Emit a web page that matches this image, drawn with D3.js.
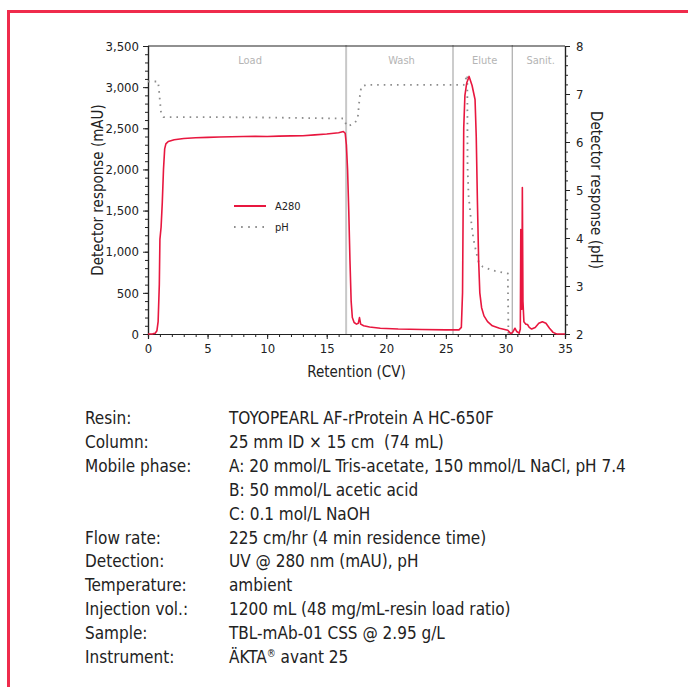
<!DOCTYPE html>
<html>
<head>
<meta charset="utf-8">
<script src="https://cdn.jsdelivr.net/npm/d3@7"></script>
<style>
  body { margin: 0; background: #fff; }
  svg text { font-family: "Liberation Sans Narrow", "DejaVu Sans Condensed", "Roboto", sans-serif; font-stretch: condensed; }
</style>
</head>
<body>
<div id="chart"></div>
<script>
"use strict";

//data ************************************************************
var a280CV = [0, 0.4, 0.6, 0.75, 0.85, 0.95, 1.0, 1.1, 1.2, 1.3, 1.4, 1.5, 1.7, 2.2, 3, 4, 5, 6, 7, 8, 9, 10, 11, 12, 13, 14, 15, 16, 16.4,
  16.55, 16.65, 16.75, 16.85, 16.95, 17.05, 17.15, 17.3, 17.5, 17.65, 17.75, 17.85, 18.1, 18.6, 19.5, 21, 23, 25, 26.1,
  26.3, 26.4, 26.45, 26.5, 26.6, 26.75, 26.95, 27.2, 27.45, 27.55, 27.65, 27.75, 27.85, 28.0, 28.2, 28.5, 28.9, 29.5, 30.2,
  30.45, 30.6, 30.8, 30.95, 31.15, 31.25, 31.29, 31.33, 31.38, 31.42, 31.47, 31.55, 31.7, 31.85, 32.0, 32.2, 32.5, 32.8,
  33.1, 33.4, 33.7, 34.0, 34.3, 35];
var a280Val = [0, 2, 10, 40, 150, 600, 1150, 1300, 1600, 2000, 2250, 2310, 2340, 2360, 2375, 2385, 2390, 2395, 2398, 2400, 2402, 2400, 2405, 2408, 2410, 2420, 2430, 2445, 2460,
  2440, 2300, 2000, 1500, 900, 400, 200, 140, 120, 130, 200, 120, 100, 85, 70, 60, 55, 50, 50,
  80, 500, 1500, 2500, 2900, 3050, 3130, 3020, 2850, 2400, 1600, 900, 500, 320, 220, 150, 100, 70, 45,
  5, 20, 70, 30, 10, 60, 1270, 300, 300, 1780, 400, 150, 120, 115, 80, 60, 80, 130,
  148, 130, 70, 20, 0, 0];

var phCV = [0, 0.85, 0.95, 1.1, 1.3, 5, 10, 16.4, 16.7, 17.3, 17.6, 17.75, 17.9, 18.3, 26.5, 26.8, 26.82, 26.9, 27.1, 27.3, 27.55, 27.75, 28.1, 29, 30.2, 30.25];
var phVal = [7.26, 7.26, 7.0, 6.6, 6.52, 6.52, 6.51, 6.49, 6.33, 6.38, 6.48, 6.9, 7.15, 7.19, 7.19, 7.4, 5.5, 4.9, 4.4, 4.0, 3.7, 3.5, 3.4, 3.32, 3.26, 2.0];

var phaseNames = ["Load", "Wash", "Elute", "Sanit."];
var phaseBounds = [0, 16.63, 25.6, 30.57, 35];

var xTicks = [0, 5, 10, 15, 20, 25, 30, 35];
var leftTicks = [0, 500, 1000, 1500, 2000, 2500, 3000, 3500];
var rightTicks = [2, 3, 4, 5, 6, 7, 8];

var infoLabels = ["Resin:", "Column:", "Mobile phase:", "", "", "Flow rate:", "Detection:", "Temperature:", "Injection vol.:", "Sample:", "Instrument:"];
var infoValues = [
  "TOYOPEARL AF-rProtein A HC-650F",
  "25 mm ID \u00d7 15 cm  (74 mL)",
  "A: 20 mmol/L Tris-acetate, 150 mmol/L NaCl, pH 7.4",
  "B: 50 mmol/L acetic acid",
  "C: 0.1 mol/L NaOH",
  "225 cm/hr (4 min residence time)",
  "UV @ 280 nm (mAU), pH",
  "ambient",
  "1200 mL (48 mg/mL-resin load ratio)",
  "TBL-mAb-01 CSS @ 2.95 g/L",
  "\u00c4KTA\u00ae avant 25"
];

//variables ************************************************************
var width = 688, height = 687;
var red = "#e8173f";
var pLeft = 148, pRight = 565, pTop = 46, pBottom = 334;

var svg = d3.select("#chart").append("svg")
  .attr("width", width).attr("height", height);

// frame
svg.append("rect")
  .attr("x", 8.5).attr("y", 11.5)
  .attr("width", 720).attr("height", 720)
  .attr("fill", "none").attr("stroke", "#ef2b4c").attr("stroke-width", 3);

var x = d3.scaleLinear().domain([0, 35]).range([pLeft, pRight]);
var yL = d3.scaleLinear().domain([0, 3500]).range([pBottom, pTop]);
var yR = d3.scaleLinear().domain([2, 8]).range([pBottom, pTop]);

//phase lines + labels ************************************************************
svg.selectAll(".phase")
  .data(phaseBounds.slice(1, 4))
  .enter().append("line")
  .attr("x1", function(d) { return x(d); }).attr("x2", function(d) { return x(d); })
  .attr("y1", pTop - 1).attr("y2", pBottom)
  .attr("stroke", function(d, i) { return i == 0 ? "#c8c8c8" : "#999"; })
  .attr("stroke-width", function(d, i) { return i == 0 ? 2 : 1; });

svg.selectAll(".phaseLabel")
  .data(phaseNames)
  .enter().append("text")
  .attr("x", function(d, i) { return x((phaseBounds[i] + phaseBounds[i + 1]) / 2) + (i == 0 ? 3 : 2); })
  .attr("y", 64)
  .attr("text-anchor", "middle")
  .attr("font-size", 11)
  .attr("fill", "#b4b4b4")
  .text(function(d) { return d; });

//axes ************************************************************
function styleAxis(g) {
  g.select(".domain").attr("stroke", "#222").attr("stroke-width", 1.2);
  g.selectAll(".tick line").attr("stroke", "#222");
  g.selectAll("text").attr("font-size", 13).attr("fill", "#222");
}

var gx = svg.append("g").attr("transform", "translate(0," + pBottom + ")")
  .call(d3.axisBottom(x).tickValues(d3.range(0, 36, 1)).tickSize(3).tickFormat(""));
styleAxis(gx);
var gx2 = svg.append("g").attr("transform", "translate(0," + pBottom + ")")
  .call(d3.axisBottom(x).tickValues(xTicks).tickSize(5).tickPadding(5).tickFormat(d3.format("d")));
styleAxis(gx2);

var gl = svg.append("g").attr("transform", "translate(" + pLeft + ",0)")
  .call(d3.axisLeft(yL).tickValues(d3.range(0, 3501, 100)).tickSize(3).tickFormat(""));
styleAxis(gl);
var gl2 = svg.append("g").attr("transform", "translate(" + pLeft + ",0)")
  .call(d3.axisLeft(yL).tickValues(leftTicks).tickSize(5).tickPadding(4).tickFormat(d3.format(",")));
styleAxis(gl2);

var gr = svg.append("g").attr("transform", "translate(" + pRight + ",0)")
  .call(d3.axisRight(yR).tickValues(d3.range(2, 8.01, 0.2)).tickSize(3).tickFormat(""));
styleAxis(gr);
var gr2 = svg.append("g").attr("transform", "translate(" + pRight + ",0)")
  .call(d3.axisRight(yR).tickValues(rightTicks).tickSize(5).tickPadding(6).tickFormat(d3.format("d")));
styleAxis(gr2);

// top line
svg.append("line")
  .attr("x1", pLeft).attr("x2", pRight).attr("y1", pTop).attr("y2", pTop)
  .attr("stroke", "#222").attr("stroke-width", 1.2);

// axis titles
svg.append("text")
  .attr("transform", "translate(103,190) rotate(-90)")
  .attr("text-anchor", "middle").attr("font-size", 15).attr("fill", "#222")
  .text("Detector response (mAU)");
svg.append("text")
  .attr("transform", "translate(591,190) rotate(90)")
  .attr("text-anchor", "middle").attr("font-size", 15).attr("fill", "#222")
  .text("Detector response (pH)");
svg.append("text")
  .attr("x", (pLeft + pRight) / 2).attr("y", 377)
  .attr("text-anchor", "middle").attr("font-size", 15).attr("fill", "#222")
  .text("Retention (CV)");

//lines ************************************************************
var phLine = d3.line()
  .x(function(d) { return x(phCV[d]); })
  .y(function(d) { return yR(phVal[d]); });
svg.append("path")
  .attr("d", phLine(d3.range(phCV.length)))
  .attr("fill", "none").attr("stroke", "#8c8c8c").attr("stroke-width", 1.8)
  .attr("stroke-dasharray", "1.6,5");

var a280Line = d3.line()
  .x(function(d) { return x(a280CV[d]); })
  .y(function(d) { return yL(a280Val[d]); });
svg.append("path")
  .attr("d", a280Line(d3.range(a280CV.length)))
  .attr("fill", "none").attr("stroke", red).attr("stroke-width", 1.6)
  .attr("stroke-linejoin", "round");

//legend ************************************************************
var legend = svg.append("g").attr("transform", "translate(234,206)");
legend.append("line").attr("x1", 0).attr("x2", 32).attr("y1", 0).attr("y2", 0)
  .attr("stroke", red).attr("stroke-width", 2);
legend.append("text").attr("x", 41).attr("y", 4).attr("font-size", 11).attr("fill", "#222").text("A280");
legend.append("line").attr("x1", 0).attr("x2", 32).attr("y1", 21).attr("y2", 21)
  .attr("stroke", "#8c8c8c").attr("stroke-width", 1.8).attr("stroke-dasharray", "1.6,5.5");
legend.append("text").attr("x", 41).attr("y", 25).attr("font-size", 11).attr("fill", "#222").text("pH");

//info text ************************************************************
var info = svg.append("g");
info.selectAll(".lab")
  .data(infoLabels)
  .enter().append("text")
  .attr("x", 85).attr("y", function(d, i) { return 424 + i * 23.9; })
  .attr("font-size", 17).attr("fill", "#222")
  .text(function(d) { return d; });

var vals = info.selectAll(".val")
  .data(infoValues)
  .enter().append("text")
  .attr("x", 229).attr("y", function(d, i) { return 424 + i * 23.9; })
  .attr("font-size", 17).attr("fill", "#222")
  .style("white-space", "pre");

// the ® is set as superscript
vals.each(function(d) {
  var parts = d.split("\u00ae");
  var t = d3.select(this);
  t.append("tspan").text(parts[0]);
  if (parts.length > 1) {
    t.append("tspan").attr("font-size", 10).attr("dy", -6).text("\u00ae");
    t.append("tspan").attr("dy", 6).text(parts[1]);
  }
});
</script>
</body>
</html>
